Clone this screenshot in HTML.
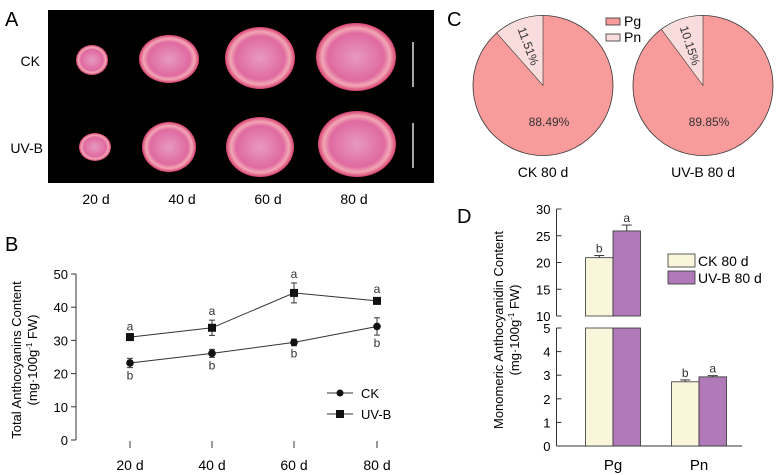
<!DOCTYPE html>
<html><head><meta charset="utf-8"><style>
html,body{margin:0;padding:0;background:#fff;}
svg{display:block;font-family:"Liberation Sans",Arial,sans-serif;}
</style></head><body>
<svg id="fig" width="780" height="475" viewBox="0 0 780 475" xmlns="http://www.w3.org/2000/svg">
<defs>
<radialGradient id="flesh" cx="50%" cy="50%" r="50%">
<stop offset="0" stop-color="#e79ac0"/><stop offset="0.7" stop-color="#e06aa0"/><stop offset="0.85" stop-color="#f2a7b6"/><stop offset="1" stop-color="#d84070"/>
</radialGradient>
</defs>
<!-- Panel A -->
<g>
<text x="5" y="26" font-size="20">A</text>
<rect x="48" y="10" width="386" height="173" fill="#000"/>
<text x="40" y="66" font-size="14" text-anchor="end">CK</text>
<text x="43" y="153" font-size="14" text-anchor="end">UV-B</text>
<g id="slices"></g>
<line x1="413" y1="42" x2="413" y2="87" stroke="#ddd" stroke-width="1.5"/>
<line x1="413" y1="123" x2="413" y2="168" stroke="#ddd" stroke-width="1.5"/>
<text x="96" y="204" font-size="14" text-anchor="middle">20 d</text>
<text x="182" y="204" font-size="14" text-anchor="middle">40 d</text>
<text x="268" y="204" font-size="14" text-anchor="middle">60 d</text>
<text x="354" y="204" font-size="14" text-anchor="middle">80 d</text>
</g>
<!-- Panel B -->
<g id="panelB">
<text x="5" y="251" font-size="20">B</text>
<text transform="translate(21,360) rotate(-90)" font-size="13" text-anchor="middle">Total Anthocyanins Content</text>
<text transform="translate(37,360) rotate(-90)" font-size="13" text-anchor="middle">(mg·100g<tspan font-size="8" dy="-5">-1</tspan><tspan dy="5"> FW)</tspan></text>
</g>
<!-- Panel C -->
<g id="panelC">
<text x="447" y="26" font-size="20">C</text>
<rect x="606" y="18" width="14" height="7" fill="#f79b9b" stroke="#333" stroke-width="0.8"/>
<text x="624" y="26" font-size="14">Pg</text>
<rect x="606" y="34" width="14" height="7" fill="#f9dcdc" stroke="#333" stroke-width="0.8"/>
<text x="624" y="42" font-size="14">Pn</text>
</g>
<!-- Panel D -->
<g id="panelD">
<text x="457" y="223" font-size="20">D</text>
<text transform="translate(503,330) rotate(-90)" font-size="13" text-anchor="middle">Monomeric Anthocyanidin Content</text>
<text transform="translate(519,330) rotate(-90)" font-size="13" text-anchor="middle">(mg·100g<tspan font-size="8" dy="-5">-1</tspan><tspan dy="5"> FW)</tspan></text>
<rect x="668" y="254" width="27" height="13" fill="#f9f6dc" stroke="#333" stroke-width="0.8"/>
<text x="698" y="266" font-size="14">CK 80 d</text>
<rect x="668" y="271" width="27" height="13" fill="#b07ab8" stroke="#333" stroke-width="0.8"/>
<text x="698" y="283" font-size="14">UV-B 80 d</text>
</g>
</svg>
<script>
// Panel B data
const days = ["20 d","40 d","60 d","80 d"];
const ckValues = [23.2, 26.1, 29.4, 34.2];
const ckErrors = [1.4, 1.2, 1.0, 2.6];
const ckLetters = ["b","b","b","b"];
const uvValues = [31.0, 33.8, 44.3, 41.9];
const uvErrors = [0.5, 2.3, 3.0, 0.8];
const uvLetters = ["a","a","a","a"];
const bTicks = [0,10,20,30,40,50];
// Panel C data
const pieLabels = ["CK 80 d","UV-B 80 d"];
const pgShares = [88.49, 89.85];
const pnShares = [11.51, 10.15];
// Panel D data
const compounds = ["Pg","Pn"];
const ckMono = [20.9, 2.72];
const ckMonoErr = [0.4, 0.08];
const uvMono = [25.9, 2.93];
const uvMonoErr = [1.1, 0.05];
const monoLetCk = ["b","b"];
const monoLetUv = ["a","a"];
const dTicksLow = [0,1,2,3,4,5];
const dTicksHigh = [10,15,20,25,30];

const NS="http://www.w3.org/2000/svg";
function mk(parent,tag,attrs,text){const e=document.createElementNS(NS,tag);for(const k in attrs)e.setAttribute(k,attrs[k]);if(text!==undefined)e.textContent=text;parent.appendChild(e);return e;}

// Panel A slices
const slices=document.getElementById('slices');
const sliceRows=[[[92,60,16,15],[169,59,30,24],[260,58,35,31],[356,57,40,34]],[[95,147,16,14],[169,147,27,25],[260,147,34,30],[357,144,39,33]]];
sliceRows.forEach((row,ri)=>row.forEach((s,ci)=>{
 const e=mk(slices,'ellipse',{cx:s[0],cy:s[1],rx:s[2],ry:s[3],fill:'url(#flesh)'});
 
 
}));

// Panel B
const pB=document.getElementById('panelB');
const bx0=76, by0=440, bPer=3.32;
const bxs=[130,212,294,377];
function bY(v){return by0-v*bPer;}
const ax=mk(pB,'line',{x1:bx0,y1:bY(50),x2:bx0,y2:by0,stroke:'#333','stroke-width':1});


bTicks.forEach(t=>{
 mk(pB,'line',{x1:bx0-5,y1:bY(t),x2:bx0,y2:bY(t),stroke:'#333'});
 const tl=mk(pB,'text',{x:bx0-8,y:bY(t)+5,'font-size':13,'text-anchor':'end'},String(t));
 
 
});
days.forEach((d,i)=>{
 mk(pB,'line',{x1:bxs[i],y1:441,x2:bxs[i],y2:448,stroke:'#333'});
 const tl=mk(pB,'text',{x:bxs[i],y:470,'font-size':14,'text-anchor':'middle'},d);
 
 
});
function series(vals,errs,letters,square,name,above){
 const pts=vals.map((v,i)=>bxs[i]+','+bY(v)).join(' ');
 const pl=mk(pB,'polyline',{points:pts,fill:'none',stroke:'#333','stroke-width':1});
 
 
 vals.forEach((v,i)=>{
  const x=bxs[i],y=bY(v),e=errs[i]*bPer;
  mk(pB,'line',{x1:x,y1:y-e,x2:x,y2:y+e,stroke:'#333'});
  mk(pB,'line',{x1:x-3,y1:y-e,x2:x+3,y2:y-e,stroke:'#333'});
  mk(pB,'line',{x1:x-3,y1:y+e,x2:x+3,y2:y+e,stroke:'#333'});
  let m;
  if(square)m=mk(pB,'rect',{x:x-4,y:y-4,width:8,height:8,fill:'#111'});
  else m=mk(pB,'circle',{cx:x,cy:y,r:3.8,fill:'#111'});
  
  
  const ly=above?y-e-5:y+e+12;
  const lt=mk(pB,'text',{x:x,y:ly,'font-size':12,'text-anchor':'middle',fill:'#333'},letters[i]);
  
  
 });
}
series(ckValues,ckErrors,ckLetters,false,'ck',false);
series(uvValues,uvErrors,uvLetters,true,'uvb',true);
mk(pB,'line',{x1:327,y1:393,x2:353,y2:393,stroke:'#333'});
const lc=mk(pB,'circle',{cx:340,cy:393,r:3.5,fill:'#111'});


const lct=mk(pB,'text',{x:361,y:398,'font-size':13},'CK');


mk(pB,'line',{x1:327,y1:414,x2:353,y2:414,stroke:'#333'});
const lu=mk(pB,'rect',{x:336,y:410,width:8,height:8,fill:'#111'});


const lut=mk(pB,'text',{x:361,y:419,'font-size':13},'UV-B');



// Panel C
const pC=document.getElementById('panelC');
const pieCx=[543,703], pieCy=85.5, pieR=70;
pieLabels.forEach((lab,i)=>{
 const cx=pieCx[i];
 const tot=pgShares[i]+pnShares[i];
 const a=pnShares[i]/tot*2*Math.PI;
 const ex=cx-pieR*Math.sin(a), ey=pieCy-pieR*Math.cos(a);
 const pg=mk(pC,'circle',{cx:cx,cy:pieCy,r:pieR,fill:'#f79b9b',stroke:'#333','stroke-width':0.8});
 
 
 const pn=mk(pC,'path',{d:`M${cx},${pieCy} L${cx},${pieCy-pieR} A${pieR},${pieR} 0 0 0 ${ex},${ey} Z`,fill:'#f9dcdc',stroke:'#333','stroke-width':0.6});
 
 
 const mid=a/2, lr=42;
 const lx=cx-lr*Math.sin(mid), ly=pieCy-lr*Math.cos(mid);
 const t1=mk(pC,'text',{x:0,y:4,'font-size':12,'text-anchor':'middle',fill:'#333',transform:`translate(${lx},${ly}) rotate(${90-mid*180/Math.PI})`},pnShares[i].toFixed(2)+'%');
 
 
 const t2=mk(pC,'text',{x:cx+6,y:126,'font-size':12,'text-anchor':'middle',fill:'#333'},pgShares[i].toFixed(2)+'%');
 
 
 const t3=mk(pC,'text',{x:cx,y:177,'font-size':14,'text-anchor':'middle'},lab);
 
 
});

// Panel D
const pD=document.getElementById('panelD');
const dx0=556.5;
function dY(v){return v<=5? 446-v*23.6 : 316-(v-10)*5.35;}
mk(pD,'line',{x1:dx0,y1:dY(30),x2:dx0,y2:dY(10),stroke:'#333'});
mk(pD,'line',{x1:dx0,y1:dY(5),x2:dx0,y2:446,stroke:'#333'});
mk(pD,'line',{x1:dx0,y1:446,x2:742,y2:446,stroke:'#333'});
dTicksHigh.concat(dTicksLow).forEach(t=>{
 mk(pD,'line',{x1:dx0,y1:dY(t),x2:dx0+5,y2:dY(t),stroke:'#333'});
 const tl=mk(pD,'text',{x:dx0-6,y:dY(t)+5,'font-size':13,'text-anchor':'end'},String(t));
 
 
});
const groupX=[613,699], bw=27.5;
function bar(x,v,e,fill,name,letter){
 const top=dY(v);
 if(v>10){
  const r1=mk(pD,'rect',{x:x,y:top,width:bw,height:dY(10)-top,fill:fill,stroke:'#333','stroke-width':0.8});
  
  
  const r2=mk(pD,'rect',{x:x,y:dY(5),width:bw,height:446-dY(5),fill:fill,stroke:'#333','stroke-width':0.8});
  
  
 } else {
  const r=mk(pD,'rect',{x:x,y:top,width:bw,height:446-top,fill:fill,stroke:'#333','stroke-width':0.8});
  
  
 }
 const et=dY(v+e);
 mk(pD,'line',{x1:x+bw/2,y1:et,x2:x+bw/2,y2:top,stroke:'#333'});
 mk(pD,'line',{x1:x+bw/2-5,y1:et,x2:x+bw/2+5,y2:et,stroke:'#333'});
 const lt=mk(pD,'text',{x:x+bw/2,y:et-3,'font-size':12,'text-anchor':'middle',fill:'#333'},letter);
 
 
}
compounds.forEach((c,i)=>{
 bar(groupX[i]-bw,ckMono[i],ckMonoErr[i],'#f9f6dc','bar-ck-'+c.toLowerCase(),monoLetCk[i]);
 bar(groupX[i],uvMono[i],uvMonoErr[i],'#b07ab8','bar-uvb-'+c.toLowerCase(),monoLetUv[i]);
 const tl=mk(pD,'text',{x:groupX[i],y:470,'font-size':15,'text-anchor':'middle'},c);
 
 
});
</script>
</body></html>
